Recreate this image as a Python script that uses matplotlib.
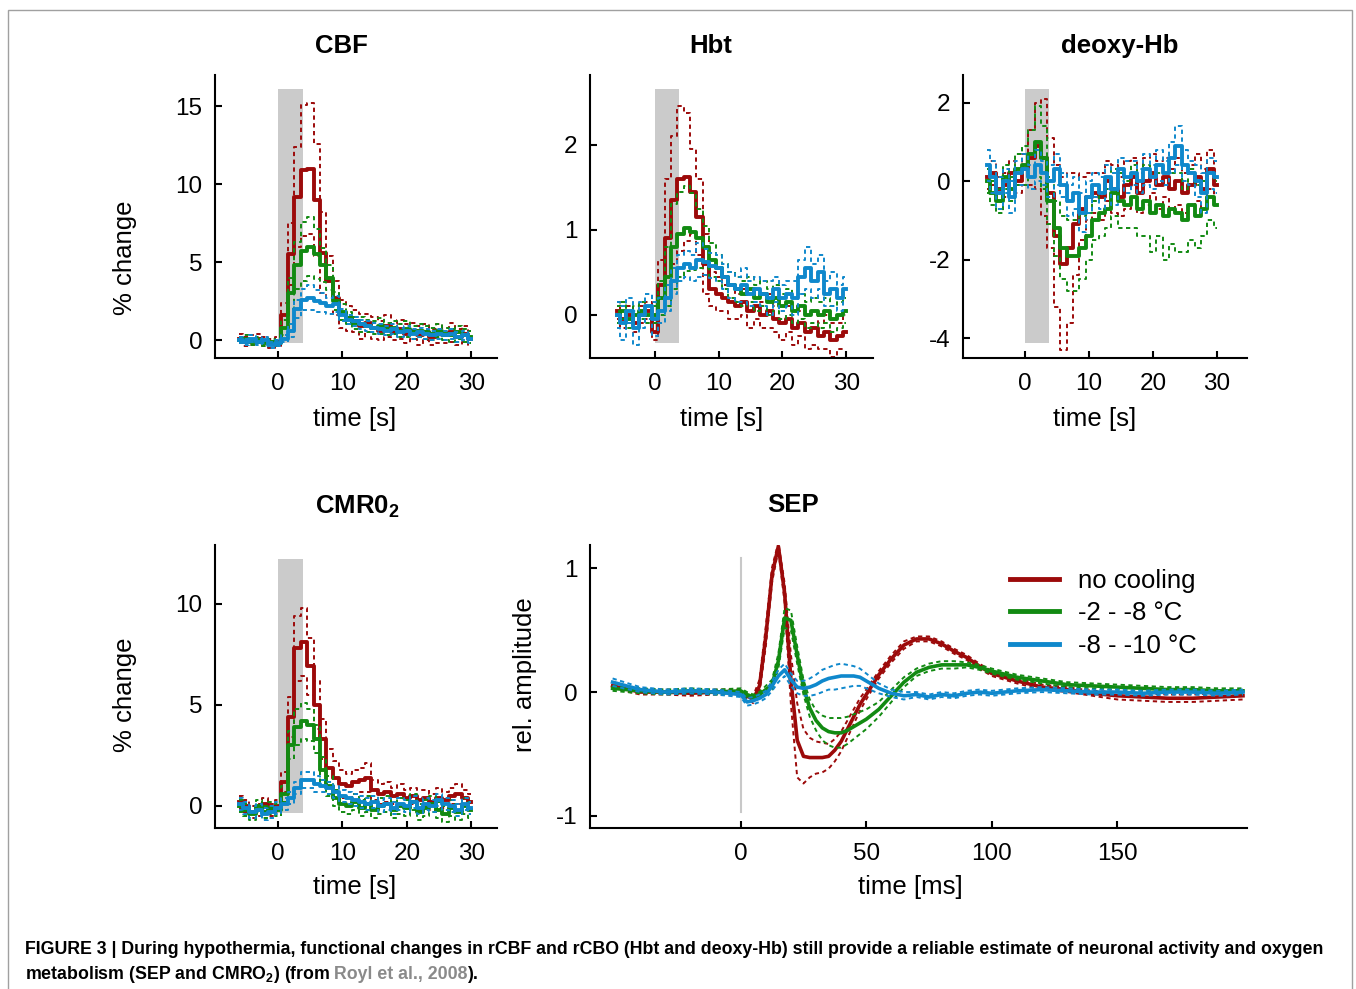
import numpy as np
import matplotlib
matplotlib.use("Agg")
import matplotlib.pyplot as plt
from matplotlib import font_manager
from matplotlib.patches import Rectangle

plt.rcParams['font.family'] = ['Liberation Sans', 'DejaVu Sans']
plt.rcParams['axes.unicode_minus'] = False
plt.rcParams['mathtext.fontset'] = 'custom'
plt.rcParams['mathtext.rm'] = 'Liberation Sans'
plt.rcParams['mathtext.bf'] = 'Liberation Sans:bold'

W, H = 1356, 989

# conditions
labels = ['no cooling', '-2 - -8 °C', '-8 - -10 °C']
colors = ['#9c0a0a', '#128a12', '#0f88cc']

# hemodynamic panels: time in s, stimulus 0-4 s
t_hemo = np.arange(-6, 31)
stim_on, stim_off = 0, 3.8

cbf_red = [0.1, -0.1, 0.0, 0.1, -0.1, -0.2, -0.1, 1.6, 5.5, 9.2, 10.9, 11.0, 9.0, 5.6, 3.8, 2.7, 1.7,
           1.4, 1.2, 0.9, 1.1, 0.8, 0.6, 0.9, 0.5, 0.7, 0.4, 0.6, 0.3, 0.5, 0.2, 0.4, 0.3, 0.5, 0.2, 0.4, 0.1]
cbf_red_se = [0.3, 0.3, 0.3, 0.3, 0.3, 0.3, 0.3, 0.8, 2.0, 3.2, 4.2, 4.2, 3.6, 2.6, 1.6, 1.1, 0.9,
              0.8, 0.7, 0.8, 0.6, 0.7, 0.6, 0.7, 0.5, 0.6, 0.6, 0.5, 0.6, 0.5, 0.5, 0.6, 0.5, 0.6, 0.5, 0.5, 0.5]
cbf_green = [0.0, 0.1, -0.1, 0.0, -0.2, -0.1, -0.2, 0.8, 3.0, 4.8, 5.7, 6.0, 5.5, 4.8, 4.0, 2.5, 1.8,
             1.4, 1.1, 1.0, 0.9, 0.8, 0.9, 0.7, 0.8, 0.6, 0.7, 0.5, 0.6, 0.5, 0.4, 0.6, 0.4, 0.3, 0.5, 0.3, 0.2]
cbf_green_se = [0.2, 0.2, 0.2, 0.2, 0.2, 0.2, 0.2, 0.5, 1.0, 1.5, 1.9, 1.9, 1.6, 1.1, 0.8, 0.6, 0.5,
                0.4, 0.4, 0.5, 0.4, 0.4, 0.5, 0.4, 0.4, 0.4, 0.5, 0.4, 0.4, 0.4, 0.4, 0.4, 0.4, 0.4, 0.4, 0.4, 0.4]
cbf_blue = [0.0, -0.1, 0.1, -0.1, 0.0, -0.3, -0.2, 0.1, 0.6, 2.0, 2.6, 2.7, 2.5, 2.4, 2.2, 2.3, 1.6,
            1.3, 1.2, 1.0, 0.9, 0.8, 0.7, 0.6, 0.7, 0.5, 0.6, 0.4, 0.5, 0.4, 0.3, 0.4, 0.3, 0.4, 0.2, 0.3, 0.1]
cbf_blue_se = [0.2, 0.2, 0.2, 0.2, 0.2, 0.2, 0.2, 0.2, 0.4, 0.6, 0.7, 0.8, 0.7, 0.6, 0.5, 0.5, 0.4,
               0.3, 0.3, 0.3, 0.3, 0.3, 0.3, 0.3, 0.3, 0.3, 0.3, 0.3, 0.3, 0.3, 0.3, 0.3, 0.3, 0.3, 0.3, 0.3, 0.3]

hbt_red = [0.05, -0.05, 0.0, -0.1, 0.0, 0.05, -0.2, 0.35, 0.9, 1.35, 1.6, 1.62, 1.45, 1.15, 0.6, 0.3, 0.25,
           0.2, 0.15, 0.1, 0.15, 0.05, 0.1, 0.0, 0.05, -0.05, -0.1, -0.05, -0.15, -0.1, -0.2, -0.15, -0.25,
           -0.2, -0.3, -0.25, -0.2]
hbt_red_se = [0.1, 0.1, 0.1, 0.1, 0.1, 0.1, 0.1, 0.3, 0.7, 0.75, 0.85, 0.75, 0.5, 0.45, 0.35, 0.2, 0.2,
              0.15, 0.2, 0.15, 0.15, 0.2, 0.15, 0.15, 0.2, 0.15, 0.2, 0.15, 0.2, 0.15, 0.2, 0.2, 0.15,
              0.2, 0.2, 0.15, 0.2]
hbt_green = [0.0, 0.05, -0.05, 0.0, 0.05, 0.0, 0.0, 0.2, 0.45, 0.8, 0.95, 1.02, 0.98, 0.9, 0.8, 0.65, 0.55,
             0.45, 0.35, 0.3, 0.25, 0.3, 0.2, 0.25, 0.15, 0.2, 0.1, 0.15, 0.05, 0.1, 0.0, 0.05, 0.0,
             0.05, -0.05, 0.0, 0.05]
hbt_green_se = [0.1, 0.1, 0.1, 0.1, 0.1, 0.1, 0.1, 0.2, 0.35, 0.5, 0.5, 0.5, 0.45, 0.35, 0.25, 0.2, 0.15,
                0.15, 0.15, 0.15, 0.15, 0.15, 0.15, 0.15, 0.15, 0.15, 0.15, 0.15, 0.15, 0.15, 0.15, 0.15,
                0.15, 0.15, 0.15, 0.15, 0.15]
hbt_blue = [0.0, -0.1, 0.05, -0.15, 0.0, 0.1, -0.05, 0.05, 0.2, 0.4, 0.55, 0.6, 0.55, 0.65, 0.62, 0.58, 0.55,
            0.45, 0.35, 0.3, 0.35, 0.25, 0.3, 0.25, 0.2, 0.3, 0.2, 0.25, 0.2, 0.45, 0.55, 0.4, 0.5,
            0.25, 0.3, 0.2, 0.3]
hbt_blue_se = [0.15, 0.2, 0.15, 0.2, 0.15, 0.15, 0.2, 0.15, 0.15, 0.15, 0.15, 0.15, 0.15, 0.2, 0.15, 0.15,
               0.15, 0.15, 0.15, 0.15, 0.2, 0.15, 0.15, 0.15, 0.2, 0.15, 0.15, 0.15, 0.2, 0.2, 0.25, 0.2,
               0.2, 0.15, 0.2, 0.15, 0.15]

deoxy_red = [0.1, 0.2, -0.2, -0.1, 0.2, 0.0, 0.3, 0.6, 0.9, 0.6, -0.3, -1.4, -2.1, -1.7, -1.1, -0.7, -0.4,
             -0.3, -0.4, 0.0, -0.2, -0.4, -0.1, 0.1, -0.3, 0.0, 0.2, -0.1, 0.1, -0.2, 0.0, -0.3, -0.1,
             0.1, -0.2, 0.3, -0.1]
deoxy_red_se = [0.3, 0.3, 0.3, 0.3, 0.3, 0.3, 0.4, 0.7, 1.1, 1.5, 1.4, 1.8, 2.2, 1.9, 1.3, 0.8, 0.6,
                0.5, 0.6, 0.5, 0.6, 0.5, 0.6, 0.5, 0.5, 0.6, 0.5, 0.6, 0.5, 0.5, 0.6, 0.5, 0.5, 0.6, 0.5,
                0.5, 0.5]
deoxy_green = [0.0, -0.3, -0.5, 0.1, -0.2, 0.3, 0.4, 0.7, 1.0, 0.6, -0.5, -1.2, -1.7, -1.9, -1.9, -1.7, -1.4,
               -1.0, -0.8, -0.7, -0.3, -0.5, -0.6, -0.4, -0.7, -0.5, -0.8, -0.6, -0.9, -0.7, -0.8, -1.0,
               -0.6, -0.9, -0.7, -0.4, -0.6]
deoxy_green_se = [0.3, 0.3, 0.3, 0.3, 0.3, 0.4, 0.5, 0.6, 0.9, 0.8, 0.6, 0.7, 0.8, 0.9, 0.9, 0.8, 0.6,
                  0.5, 0.6, 0.5, 0.6, 0.7, 0.6, 0.8, 0.7, 0.9, 1.0, 0.8, 1.1, 0.9, 1.0, 0.8, 0.9, 0.8,
                  0.7, 0.6, 0.6]
deoxy_blue = [0.4, 0.1, -0.3, 0.0, -0.4, 0.2, 0.3, 0.1, 0.4, 0.2, 0.0, 0.3, -0.1, -0.5, -0.3, -0.8, -0.4,
              -0.1, -0.3, 0.1, -0.2, 0.3, 0.1, 0.2, 0.0, 0.3, 0.1, 0.4, 0.2, 0.6, 0.9, 0.4, 0.2, 0.0,
              -0.3, 0.2, 0.1]
deoxy_blue_se = [0.4, 0.4, 0.4, 0.3, 0.4, 0.3, 0.4, 0.3, 0.4, 0.3, 0.4, 0.4, 0.3, 0.4, 0.4, 0.5, 0.4,
                 0.3, 0.4, 0.3, 0.4, 0.3, 0.4, 0.3, 0.3, 0.4, 0.3, 0.4, 0.3, 0.4, 0.5, 0.4, 0.3, 0.4,
                 0.5, 0.4, 0.4]

cmro_red = [0.2, 0.0, -0.3, -0.2, 0.1, -0.2, 0.0, 1.2, 4.4, 7.8, 8.1, 6.9, 5.0, 3.3, 1.9, 1.4, 1.1,
            1.0, 1.2, 1.3, 1.4, 0.8, 0.6, 0.7, 0.5, 0.6, 0.4, 0.5, 0.3, 0.4, 0.2, 0.4, 0.3, 0.5, 0.6, 0.4, 0.2]
cmro_red_se = [0.3, 0.3, 0.3, 0.3, 0.3, 0.3, 0.3, 0.5, 1.0, 1.6, 1.7, 1.4, 1.2, 1.0, 0.9, 0.8, 0.7,
               0.6, 0.6, 0.6, 0.7, 0.5, 0.5, 0.5, 0.4, 0.5, 0.4, 0.4, 0.5, 0.4, 0.4, 0.5, 0.4, 0.4, 0.5, 0.4, 0.4]
cmro_green = [0.0, -0.2, -0.4, 0.0, -0.3, -0.1, -0.2, 0.6, 3.0, 3.9, 4.2, 4.0, 3.3, 1.8, 1.0, 0.4, 0.1,
              0.0, 0.2, -0.1, 0.1, -0.2, 0.0, 0.1, -0.2, 0.0, -0.1, 0.2, -0.3, -0.1, 0.1, -0.2, -0.4,
              -0.1, -0.3, 0.0, -0.2]
cmro_green_se = [0.3, 0.3, 0.3, 0.3, 0.3, 0.3, 0.3, 0.4, 0.7, 0.9, 0.9, 0.8, 0.7, 0.6, 0.5, 0.4, 0.4,
                 0.4, 0.4, 0.4, 0.4, 0.4, 0.4, 0.4, 0.4, 0.4, 0.4, 0.4, 0.4, 0.4, 0.4, 0.4, 0.4, 0.4,
                 0.4, 0.4, 0.4]
cmro_blue = [0.1, -0.1, -0.3, -0.2, -0.4, -0.3, -0.1, 0.1, 0.4, 0.9, 1.3, 1.3, 1.1, 1.0, 0.9, 0.7, 0.5,
             0.4, 0.3, 0.2, 0.1, 0.2, 0.0, 0.1, -0.1, 0.1, 0.0, 0.2, -0.1, 0.1, 0.0, 0.3, 0.1, 0.0,
             -0.2, 0.1, -0.1]
cmro_blue_se = [0.3, 0.3, 0.3, 0.3, 0.3, 0.3, 0.3, 0.3, 0.3, 0.3, 0.4, 0.4, 0.4, 0.3, 0.3, 0.3, 0.3,
                0.3, 0.3, 0.3, 0.3, 0.3, 0.3, 0.3, 0.3, 0.3, 0.3, 0.3, 0.3, 0.3, 0.3, 0.3, 0.3, 0.3,
                0.3, 0.3, 0.3]

# SEP: time in ms, relative amplitude
sep_t = [-51, -40, -30, -20, -10, 0, 2.5, 5, 7.5, 10, 12.5, 15, 17.5, 20, 22.5, 25, 27.5, 30, 32.5, 35,
         37.5, 40, 42.5, 45, 47.5, 50, 55, 60, 65, 70, 75, 80, 85, 90, 95, 100, 110, 120, 130, 140,
         150, 160, 170, 180, 190, 200]
sep_red = [0.05, 0.0, 0.0, -0.01, 0.0, 0.0, -0.03, -0.06, 0.05, 0.45, 0.95, 1.18, 0.8, 0.1, -0.39, -0.52,
           -0.53, -0.53, -0.53, -0.52, -0.47, -0.4, -0.3, -0.2, -0.1, -0.02, 0.14, 0.27, 0.38, 0.43,
           0.43, 0.39, 0.33, 0.28, 0.21, 0.15, 0.09, 0.04, 0.02, -0.01, -0.03, -0.04, -0.05, -0.05,
           -0.04, -0.03]
sep_red_se = [0.02, 0.02, 0.02, 0.02, 0.02, 0.02, 0.02, 0.03, 0.05, 0.08, 0.06, 0.03, 0.08, 0.2, 0.3,
              0.22, 0.16, 0.13, 0.12, 0.1, 0.09, 0.08, 0.07, 0.06, 0.05, 0.04, 0.03, 0.03, 0.03, 0.02,
              0.02, 0.02, 0.02, 0.02, 0.02, 0.02, 0.02, 0.02, 0.02, 0.02, 0.03, 0.03, 0.03, 0.03, 0.03, 0.03]
sep_green = [0.03, 0.01, 0.0, 0.01, 0.0, 0.01, -0.02, -0.04, -0.02, 0.02, 0.06, 0.25, 0.6, 0.58, 0.3, 0.04,
             -0.13, -0.23, -0.29, -0.32, -0.33, -0.33, -0.31, -0.28, -0.25, -0.22, -0.14, -0.03, 0.08,
             0.16, 0.2, 0.22, 0.22, 0.22, 0.2, 0.17, 0.12, 0.09, 0.06, 0.05, 0.04, 0.03, 0.02, 0.02,
             0.01, 0.01]
sep_green_se = [0.02, 0.02, 0.02, 0.02, 0.02, 0.02, 0.02, 0.02, 0.02, 0.03, 0.04, 0.06, 0.08, 0.08, 0.07,
                0.06, 0.07, 0.08, 0.1, 0.11, 0.12, 0.12, 0.11, 0.1, 0.09, 0.08, 0.06, 0.05, 0.04, 0.03,
                0.03, 0.03, 0.03, 0.02, 0.02, 0.02, 0.02, 0.02, 0.02, 0.02, 0.02, 0.02, 0.02, 0.02,
                0.02, 0.02]
sep_blue = [0.08, 0.02, 0.0, 0.01, 0.0, -0.02, -0.08, -0.07, -0.05, -0.02, 0.05, 0.13, 0.18, 0.1, 0.04,
            0.03, 0.04, 0.06, 0.09, 0.11, 0.12, 0.13, 0.13, 0.13, 0.12, 0.09, 0.03, -0.01, -0.03, -0.02,
            -0.04, -0.02, -0.03, -0.01, 0.0, -0.01, 0.01, 0.02, 0.01, 0.0, 0.0, -0.01, 0.0, 0.0, -0.01, 0.0]
sep_blue_se = [0.03, 0.02, 0.02, 0.02, 0.02, 0.02, 0.03, 0.03, 0.03, 0.03, 0.04, 0.05, 0.05, 0.05, 0.05,
               0.06, 0.07, 0.08, 0.09, 0.09, 0.1, 0.1, 0.09, 0.08, 0.07, 0.06, 0.04, 0.03, 0.03, 0.02,
               0.02, 0.02, 0.02, 0.02, 0.02, 0.02, 0.02, 0.02, 0.02, 0.02, 0.02, 0.02, 0.02, 0.02,
               0.02, 0.02]

caption_1 = ("FIGURE 3 | During hypothermia, functional changes in rCBF and rCBO (Hbt and deoxy-Hb) "
             "still provide a reliable estimate of neuronal activity and oxygen")
caption_2 = ["metabolism (SEP and CMRO$_\\mathbf{2}$) (from", "Royl et al., 2008", ")."]


def fx(x):
    return x / W


def fy(y):
    return 1 - y / H


def rect(left, top, right, bottom):
    return [fx(left), fy(bottom), (right - left) / W, (bottom - top) / H]


def style_axes(ax, xlim, ylim, xticks, yticks):
    ax.set_xlim(*xlim)
    ax.set_ylim(*ylim)
    ax.set_xticks(xticks)
    ax.set_yticks(yticks)
    for s in ['top', 'right']:
        ax.spines[s].set_visible(False)
    for s in ['left', 'bottom']:
        ax.spines[s].set_linewidth(1.5)
    ax.tick_params(direction='in', length=5, width=1.5, labelsize=17.5, pad=9)
    ax.tick_params(axis='x', pad=11)


def draw_traces(ax, t, series, steps=True, lw=2.8):
    ds = 'steps-mid' if steps else 'default'
    t = np.asarray(t)
    lines = []
    for (m, se), c, lab in zip(series, colors, labels):
        m = np.asarray(m)
        se = np.asarray(se)
        for band in (m + se, m - se):
            ax.plot(t, band, color=c, lw=1.4, ls=(0, (2.2, 1.8)), drawstyle=ds)
        ln, = ax.plot(t, m, color=c, lw=lw, drawstyle=ds, label=lab)
        lines.append(ln)
    return lines


fig = plt.figure(figsize=(W / 100, H / 100), dpi=100)

hemo_panels = [
    (rect(215, 75, 497, 358), 'CBF', (341, 46),
     [(cbf_red, cbf_red_se), (cbf_green, cbf_green_se), (cbf_blue, cbf_blue_se)],
     (-9.8, 34), (-1.15, 17), [0, 5, 10, 15], (355, 419)),
    (rect(590, 75, 873, 358), 'Hbt', (711, 46),
     [(hbt_red, hbt_red_se), (hbt_green, hbt_green_se), (hbt_blue, hbt_blue_se)],
     (-10.2, 34.2), (-0.506, 2.82), [0, 1, 2], (722, 419)),
    (rect(963, 75, 1247, 358), 'deoxy-Hb', (1120, 46),
     [(deoxy_red, deoxy_red_se), (deoxy_green, deoxy_green_se), (deoxy_blue, deoxy_blue_se)],
     (-9.7, 34.7), (-4.5, 2.7), [-4, -2, 0, 2], (1095, 419)),
    (rect(215, 545, 497, 828), 'CMR0$_\\mathbf{2}$', (357, 507),
     [(cmro_red, cmro_red_se), (cmro_green, cmro_green_se), (cmro_blue, cmro_blue_se)],
     (-9.8, 34), (-1.09, 12.9), [0, 5, 10], (355, 887)),
]

for pos, title, tpos, series, xlim, ylim, yticks, xlpos in hemo_panels:
    ax = fig.add_axes(pos)
    ax.axvspan(stim_on, stim_off, ymin=0.053, ymax=0.95, color='#cbcbcb', lw=0, zorder=0)
    draw_traces(ax, t_hemo, series)
    style_axes(ax, xlim, ylim, [0, 10, 20, 30], yticks)
    fig.text(fx(tpos[0]), fy(tpos[1]), title, ha='center', va='center', fontsize=18.5, fontweight='bold')
    fig.text(fx(xlpos[0]), fy(xlpos[1]), 'time [s]', ha='center', va='center', fontsize=18.5)

fig.text(fx(125), fy(258), '% change', rotation=90, ha='center', va='center', fontsize=18.5)
fig.text(fx(125), fy(695), '% change', rotation=90, ha='center', va='center', fontsize=18.5)

# SEP panel
ax = fig.add_axes(rect(590, 545, 1247, 828))
ax.axvline(0, ymin=0.0565, ymax=0.954, color='#c8c8c8', lw=1.5, zorder=0)
handles = draw_traces(ax, sep_t, [(sep_red, sep_red_se), (sep_green, sep_green_se),
                                  (sep_blue, sep_blue_se)], steps=False, lw=2.6)
style_axes(ax, (-60, 201.6), (-1.1, 1.19), [0, 50, 100, 150], [-1, 0, 1])
fig.text(fx(793), fy(505), 'SEP', ha='center', va='center', fontsize=18.5, fontweight='bold')
fig.text(fx(910), fy(887), 'time [ms]', ha='center', va='center', fontsize=18.5)
fig.text(fx(525), fy(675), 'rel. amplitude', rotation=90, ha='center', va='center', fontsize=18.5)

leg = fig.legend(handles=handles, loc='upper left', bbox_to_anchor=(fx(1010), fy(569)),
                 frameon=False, fontsize=18.5, handlelength=1.9, handletextpad=0.75,
                 labelspacing=0.33, borderpad=0, borderaxespad=0)
for ln in leg.get_lines():
    ln.set_linewidth(3.5)

# caption
names = {f.name for f in font_manager.fontManager.ttflist}
cap_font = ['Liberation Sans Narrow', 'Liberation Sans'] if 'Liberation Sans Narrow' in names \
    else ['Liberation Sans', 'DejaVu Sans']
r = fig.canvas.get_renderer()
cap = fig.text(fx(25), fy(954), caption_1, fontsize=14, fontweight='bold', family=cap_font,
               va='baseline')
w = cap.get_window_extent(renderer=r).width
cap_size = 14 * 1302 / w
cap.set_fontsize(cap_size)

x = 25
for part, c in zip(caption_2, ['black', '#8a8a8a', 'black']):
    txt = fig.text(fx(x), fy(979), part, fontsize=cap_size, fontweight='bold', family=cap_font,
                   va='baseline', color=c)
    x = txt.get_window_extent(renderer=r).x1
    if part.endswith('from'):
        x += cap_size * 0.3

# outer frame
fig.add_artist(Rectangle((fx(8), -0.05), (1352 - 8) / W, fy(10) + 0.05, transform=fig.transFigure,
                         fill=False, edgecolor='#a0a0a0', lw=1))

fig.savefig('out.png', dpi=100)
